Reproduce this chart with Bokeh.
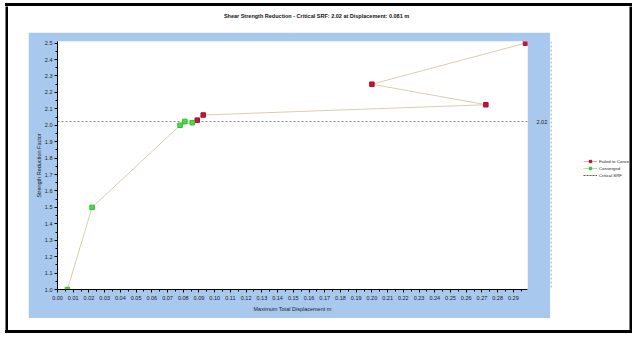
from bokeh.plotting import figure
from bokeh.layouts import column, row
from bokeh.models import (Range1d, SingleIntervalTicker, FixedTicker, NumeralTickFormatter,
                          Label, Legend, LegendItem, LinearAxis, ColumnDataSource, Span, Spacer)
from bokeh.embed import file_html
from bokeh.resources import INLINE

# Shear strength reduction stages: trial SRF, maximum total displacement, converged?
srf = [1.0, 1.5, 2.0, 2.015625, 2.0234375, 2.03125, 2.0625, 2.125, 2.25, 2.5]
max_disp = [0.0063, 0.022, 0.078, 0.0858, 0.081, 0.0889, 0.0927, 0.2725, 0.200, 0.2977]
converged = [True, True, True, True, True, False, False, False, False, False]
critical_srf = 2.02
critical_disp = 0.081

title_text = (f"Shear Strength Reduction - Critical SRF: {critical_srf:.2f} "
              f"at Displacement: {critical_disp:.3f} m")
legend_labels = ["Failed to Converge", "Converged", "Critical SRF"]

FONT = "Liberation Sans"
BLUE = "#a8c8ee"
TEXT = "#222222"


def block(w, h, color="black"):
    """A solid rectangle used for the sides of the picture frame."""
    f = figure(width=w, height=h, min_border=0, output_backend="svg",
               toolbar_location=None, outline_line_color=None,
               background_fill_color=color, border_fill_color=color)
    f.axis.visible = False
    f.grid.visible = False
    return f


def hbar(w, h):
    """A thin horizontal black bar of the picture frame."""
    return Spacer(width=w, height=h, styles={"background-color": "black"})


def blank(w, h):
    f = figure(width=w, height=h, x_range=Range1d(0, w), y_range=Range1d(h, 0),
               min_border=0, output_backend="svg", toolbar_location=None,
               outline_line_color=None, background_fill_color="white",
               border_fill_color="white")
    f.axis.visible = False
    f.grid.visible = False
    return f


# ---- title strip
top = blank(621, 26)
top.add_layout(Label(x=308, y=9, text=title_text, text_font=FONT, text_font_size="5.5px",
                     text_font_style="bold", text_color="#111111", text_align="center",
                     text_baseline="middle"))

# ---- legend strip; its sample glyphs sit outside the strip's visible range
side = blank(79, 286)
side.add_layout(Span(location=0.5, dimension="height", line_color="#7f8fa0",
                     line_dash="2 2", line_width=1))
lg_fail_line = side.line(x=[-9, -8], y=[-9, -9], line_color="#e7a9b2", line_width=1)
lg_fail = side.scatter(x=[-9], y=[-9], marker="square", size=4.5, fill_color="#cc1133",
                       line_color="#aa1030")
lg_conv_line = side.line(x=[-9, -8], y=[-9, -9], line_color="#a9e7a9", line_width=1)
lg_conv = side.scatter(x=[-9], y=[-9], marker="square", size=4.5, fill_color="#44dd44",
                       line_color="#33bb33")
lg_crit = side.line(x=[-9, -8], y=[-9, -9], line_color="#555555", line_dash="2 1",
                    line_width=1)
legend = Legend(items=[LegendItem(label=legend_labels[0], renderers=[lg_fail_line, lg_fail]),
                       LegendItem(label=legend_labels[1], renderers=[lg_conv_line, lg_conv]),
                       LegendItem(label=legend_labels[2], renderers=[lg_crit])],
                location=(33, 111), orientation="vertical",
                label_text_font=FONT, label_text_font_size="4.3px",
                label_text_color=TEXT, label_height=6, label_standoff=2,
                glyph_width=14, glyph_height=6, spacing=1, padding=0, margin=0,
                background_fill_alpha=0, border_line_alpha=0)
side.add_layout(legend, "center")

# ---- main chart on the blue panel
p = figure(width=522, height=286, output_backend="svg", toolbar_location=None,
           x_range=Range1d(0.0, 0.299), y_range=Range1d(1.0, 2.51),
           min_border_left=29, min_border_right=18, min_border_top=9,
           min_border_bottom=29, background_fill_color="white",
           border_fill_color=BLUE, outline_line_color=None)
p.grid.visible = False

p.xaxis.ticker = SingleIntervalTicker(interval=0.01, num_minor_ticks=2)
p.yaxis.ticker = SingleIntervalTicker(interval=0.1, num_minor_ticks=2)
p.xaxis.formatter = NumeralTickFormatter(format="0.00")
p.yaxis.formatter = NumeralTickFormatter(format="0.0")
p.xaxis.axis_label = "Maximum Total Displacement m"
p.yaxis.axis_label = "Strength Reduction Factor"
for ax in (p.xaxis, p.yaxis):
    ax.axis_line_color = "black"
    ax.axis_line_width = 1
    ax.major_tick_line_color = "black"
    ax.minor_tick_line_color = "black"
    ax.major_tick_in = 0
    ax.major_tick_out = 3
    ax.minor_tick_in = 0
    ax.minor_tick_out = 2
    ax.major_label_text_font = FONT
    ax.major_label_text_font_size = "5.5px"
    ax.major_label_text_color = TEXT
    ax.axis_label_text_font = FONT
    ax.axis_label_text_font_size = "5.5px"
    ax.axis_label_text_font_style = "normal"
    ax.axis_label_text_color = TEXT
p.xaxis.major_label_standoff = 3
p.xaxis.axis_label_standoff = 3
p.yaxis.major_label_standoff = 2
p.yaxis.axis_label_standoff = 0

# value of the critical SRF written at the right end of its line
crit_axis = LinearAxis(ticker=FixedTicker(ticks=[critical_srf]),
                       formatter=NumeralTickFormatter(format="0.00"),
                       axis_line_color=None, major_tick_line_color=None,
                       minor_tick_line_color=None, major_label_standoff=3,
                       major_label_text_font=FONT, major_label_text_font_size="5.5px",
                       major_label_text_color=TEXT)
p.add_layout(crit_axis, "right")

# series, the connecting line runs in order of increasing SRF
order = sorted(range(len(srf)), key=lambda i: srf[i])
line_src = ColumnDataSource(dict(x=[max_disp[i] for i in order], y=[srf[i] for i in order]))
fail_src = ColumnDataSource(dict(x=[d for d, c in zip(max_disp, converged) if not c],
                                 y=[s for s, c in zip(srf, converged) if not c]))
conv_src = ColumnDataSource(dict(x=[d for d, c in zip(max_disp, converged) if c],
                                 y=[s for s, c in zip(srf, converged) if c]))

p.hspan(y=[critical_srf], line_color="#8a8a8a", line_dash="2 2", line_width=1)
p.line("x", "y", source=line_src, line_color="#d8ceb0", line_width=1)
p.scatter("x", "y", source=fail_src, marker="square", size=4.5,
          fill_color="#cc1133", line_color="#aa1030")
p.scatter("x", "y", source=conv_src, marker="square", size=4.5,
          fill_color="#44dd44", line_color="#33bb33")

# ---- page assembly: white margin, black picture frame, title, chart, legend
inner = column(top,
               row(Spacer(width=20, height=286), p, side, spacing=0),
               Spacer(width=621, height=12), spacing=0)
middle = row(Spacer(width=5, height=324), block(3, 324), inner, block(3, 324),
             Spacer(width=1, height=324), spacing=0)
bar_top = row(Spacer(width=5, height=3), hbar(627, 3), spacing=0)
bar_bottom = row(Spacer(width=5, height=3), hbar(627, 3), spacing=0)
page = column(Spacer(width=633, height=3), bar_top, middle, bar_bottom,
              Spacer(width=633, height=5), spacing=0)

open("out.html", "w").write(file_html(page, INLINE))
